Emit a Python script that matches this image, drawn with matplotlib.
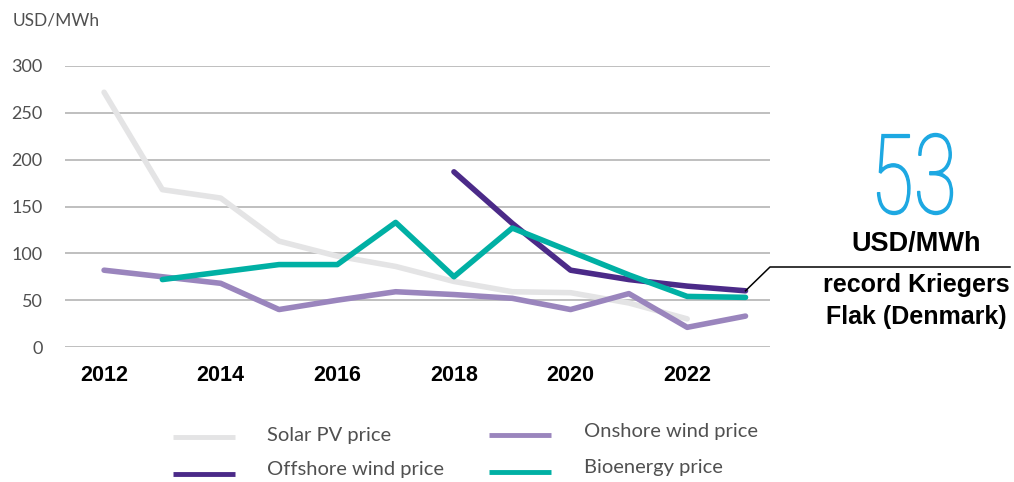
import numpy as np
import matplotlib.pyplot as plt
from matplotlib.lines import Line2D
from matplotlib.textpath import TextPath
from matplotlib.patches import PathPatch
from matplotlib.font_manager import FontProperties
import matplotlib.transforms as mtransforms

# --- Price series (USD/MWh) ---
solar_years = [2012, 2013, 2014, 2015, 2016, 2017, 2018, 2019, 2020, 2021, 2022]
solar_price = [272, 168, 159, 113, 97, 86, 70, 59, 58, 47, 30]

onshore_years = [2012, 2013, 2014, 2015, 2016, 2017, 2018, 2019, 2020, 2021, 2022, 2023]
onshore_price = [82, 75, 68, 40, 50, 59, 56, 52, 40, 57, 21, 33]

offshore_years = [2018, 2019, 2020, 2021, 2022, 2023]
offshore_price = [187, 132, 82, 72, 65, 60]

bio_years = [2013, 2014, 2015, 2016, 2017, 2018, 2019, 2020, 2021, 2022, 2023]
bio_price = [72, 80, 88, 88, 133, 75, 127, 102, 77, 54, 53]

series_names = ['Solar PV price', 'Offshore wind price', 'Onshore wind price', 'Bioenergy price']
series_colors = ['#e4e4e5', '#4b2a88', '#9a85bd', '#00b0a4']

record_value = 53

W, H = 1014, 482
fig = plt.figure(figsize=(W / 100, H / 100), dpi=100)
ax = fig.add_axes([65 / W, (H - 347) / H, 705 / W, 281 / H])

lw = 4
ax.plot(solar_years, solar_price, color=series_colors[0], lw=lw, solid_capstyle='round', clip_on=False, zorder=2)
ax.plot(onshore_years, onshore_price, color=series_colors[2], lw=lw, solid_capstyle='round', clip_on=False, zorder=3)
ax.plot(offshore_years, offshore_price, color=series_colors[1], lw=lw, solid_capstyle='round', clip_on=False, zorder=3.5)
ax.plot(bio_years, bio_price, color=series_colors[3], lw=lw, solid_capstyle='round', clip_on=False, zorder=4)

ax.set_xlim(2011.33, 2023.42)
ax.set_ylim(0, 300)
ax.set_yticks(np.arange(0, 301, 50))
ax.set_xticks(np.arange(2012, 2023, 2))
ax.grid(axis='y', color='#b4b4b4', lw=1.2)
ax.set_axisbelow(True)
for s in ax.spines.values():
    s.set_visible(False)
ax.tick_params(axis='both', length=0)
ax.tick_params(axis='y', pad=16, labelsize=13, labelcolor='#505050')
ax.tick_params(axis='x', pad=13)
for lab in ax.get_yticklabels():
    lab.set_fontfamily('Lato')
for lab in ax.get_xticklabels():
    lab.set_fontfamily('Liberation Sans')
    lab.set_fontweight('bold')
    lab.set_fontsize(15.5)

fig.text(13 / W, 1 - 20 / H, 'USD/MWh', fontsize=12.5, color='#505050', family='Lato',
         va='center', ha='left')

# --- Callout for the record offshore price ---
pt = ax.transData.transform((offshore_years[-1], offshore_price[-1]))
px, py = fig.transFigure.inverted().transform(pt)
fig.add_artist(Line2D([px, 770 / W, 1010 / W], [py, 1 - 267 / H, 1 - 267 / H],
                      color='black', lw=1.1))

# thin condensed headline number, fitted into its box
tp = TextPath((0, 0), str(record_value), size=100,
              prop=FontProperties(family='Roboto', weight='light'))
bb = tp.get_extents()
box_w, box_h = 75, 81
tr = (mtransforms.Affine2D().translate(-bb.x0, -bb.y0)
      .scale(box_w / bb.width, box_h / bb.height)
      .translate(877.5, H - 214.5))
fig.add_artist(PathPatch(tr.transform_path(tp), facecolor='#1da8e2', edgecolor='#1da8e2',
                         lw=1.0, transform=mtransforms.IdentityTransform()))

bold_kw = dict(fontweight='bold', family='Liberation Sans', ha='center', va='center')
fig.text(916 / W, 1 - 244 / H, 'USD/MWh', fontsize=19.5, **bold_kw)
fig.text(916 / W, 1 - 285 / H, 'record Kriegers', fontsize=18, **bold_kw)
fig.text(916 / W, 1 - 317 / H, 'Flak (Denmark)', fontsize=18, **bold_kw)

# --- Legend drawn by hand in two columns ---
handle_x = [(173, 235), (173, 235), (489, 551), (489, 551)]
handle_y = [437, 474, 435, 472]
text_x = [267, 267, 584, 584]
text_y = [435, 470, 432, 468]
for name, color, hx, hy, tx, ty in zip(series_names, series_colors, handle_x, handle_y, text_x, text_y):
    fig.add_artist(Line2D([hx[0] / W, hx[1] / W], [1 - hy / H, 1 - hy / H],
                          color=color, lw=3.5, solid_capstyle='butt'))
    fig.text(tx / W, 1 - ty / H, name, fontsize=14.5, color='#505050',
             family='Lato', ha='left', va='center')

fig.savefig('out.png', dpi=100)
